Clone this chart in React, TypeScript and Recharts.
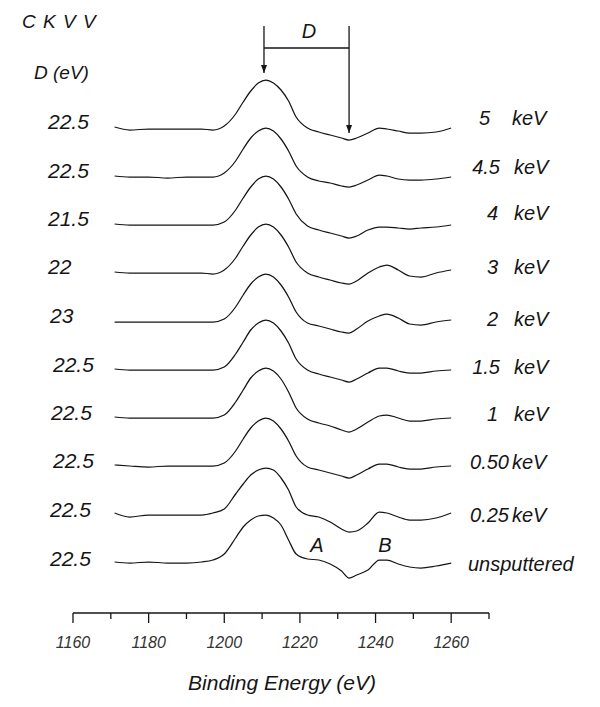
import React from 'react';
import { LineChart, Line, XAxis, YAxis, ReferenceLine, ReferenceDot } from 'recharts';

// binding energy grid (eV)
const energies = [1171, 1175, 1180, 1185, 1190, 1194, 1197, 1200, 1203, 1205, 1207, 1209, 1211, 1213, 1215, 1217, 1219, 1222, 1225, 1228, 1231, 1233, 1235, 1238, 1241, 1243, 1246, 1249, 1252, 1256, 1260];

// derivative spectra, relative to each trace's own baseline (a.u.)
const kev5 = [2, -1, 0, 0, 0, 0, -1, 3, 15, 27, 38, 46, 49, 46, 39, 28, 12, 1, -3, -6, -9, -11, -9, -4, 1, 0, -2, -4, -4, -3, 1];
const kev4_5 = [1, 0, 0, -1, 0, 0, 0, 4, 16, 28, 39, 46, 49, 46, 38, 26, 11, 0, -4, -6, -9, -10, -8, -3, 2, 1, -2, -3, -3, -2, 0];
const kev4 = [1, 0, 0, 0, 0, 0, 0, 3, 15, 27, 38, 46, 49, 46, 38, 26, 11, -1, -5, -8, -11, -13, -11, -5, -2, -2, -3, -4, -3, -2, 0];
const kev3 = [1, 0, 0, 0, 0, 0, -1, 3, 15, 27, 38, 46, 49, 46, 38, 26, 11, 0, -4, -7, -10, -11, -8, 0, 6, 8, 3, -3, -4, 0, 3];
const kev2 = [0, 0, 0, 0, 0, 0, 0, 3, 15, 27, 38, 45, 48, 45, 37, 25, 10, -1, -4, -7, -10, -11, -7, 1, 6, 8, 4, -2, -3, 0, 2];
const kev1_5 = [1, 0, 0, 0, 0, 0, 0, 3, 16, 28, 40, 47, 50, 47, 39, 27, 11, 0, -4, -7, -10, -12, -9, -3, 2, 2, -1, -3, -3, -1, 0];
const kev1 = [1, 0, 0, 0, 0, 0, 0, 3, 16, 28, 40, 47, 50, 47, 39, 26, 10, -1, -5, -8, -12, -14, -11, -4, 2, 3, 0, -3, -3, -1, 0];
const kev0_5 = [1, 0, -1, 0, 0, 0, 0, 3, 15, 27, 38, 45, 48, 45, 37, 25, 10, -1, -4, -7, -10, -12, -9, -3, 2, 2, -1, -3, -3, -1, 0];
const kev0_25 = [1, -3, -1, -1, -1, -1, 1, 5, 20, 30, 39, 44, 46, 44, 36, 24, 7, -1, -3, -8, -15, -18, -17, -9, 2, 1, -3, -6, -6, -4, 1];
const unsputtered = [0, -1, 0, -1, -1, 0, 2, 8, 24, 35, 42, 46, 47, 44, 37, 22, 8, 3, 2, -2, -9, -16, -13, -8, 2, 2, -2, -5, -6, -4, -1];

const traces = [kev5, kev4_5, kev4, kev3, kev2, kev1_5, kev1, kev0_5, kev0_25, unsputtered];
// vertical stacking offset of each trace (a.u.)
const offsets = [484, 436, 388, 340, 291, 243, 195, 147, 99, 51];

const dValues = ['22.5', '22.5', '21.5', '22', '23', '22.5', '22.5', '22.5', '22.5', '22.5'];
const energyLabels = ['5', '4.5', '4', '3', '2', '1.5', '1', '0.50', '0.25', ''];

const xTicks = [1160, 1170, 1180, 1190, 1200, 1210, 1220, 1230, 1240, 1250, 1260, 1270];

const peakE = 1210.5;
const dipE = 1233;

const data = energies.map((e, i) => {
  const row: Record<string, number> = { e };
  traces.forEach((t, k) => {
    row['s' + k] = t[i] + offsets[k];
  });
  return row;
});

const INK = '#151515';
const FONT = '"Liberation Sans", Arial, sans-serif';

// positions of the side texts (page px)
const leftX = [48, 48, 48, 48, 50, 53, 51, 53, 50, 50];
const leftY = [122, 171, 219, 267, 316, 365, 413, 461, 510, 559];
const rightY = [118, 167, 213, 267, 319, 367, 414, 462, 515, 564];
const rightEnd = [490, 500, 498, 498, 498, 500, 498, 509, 509, 0];
const kevX = [512, 514, 514, 514, 514, 514, 514, 512, 512, 0];

const AxisTick = (props: any) => {
  const { x, y, payload } = props;
  const major = payload.value % 20 === 0 && payload.value <= 1260;
  return (
    <g>
      <line x1={x} x2={x} y1={y} y2={y + (major ? 10 : 6)} stroke={INK} strokeWidth={1.3} />
      {major && (
        <text x={x} y={y + 35} textAnchor="middle" fontFamily={FONT} fontStyle="italic" fontSize={16} fill="#333">
          {payload.value}
        </text>
      )}
    </g>
  );
};

const ArrowHead = (props: any) => {
  const { cx, cy } = props;
  return <path d={`M${cx - 3},${cy - 8} L${cx + 3},${cy - 8} L${cx},${cy} Z`} fill={INK} />;
};

export default function App() {
  const arrowTop = 587;
  const barY = 565;
  const leftTip = offsets[0] + 49 + 7;
  const rightTip = offsets[0] - 11 + 7;

  return (
    <div style={{ position: 'absolute', left: 0, top: 0, width: 600, height: 707, background: '#fff' }}>
      <LineChart width={600} height={707} data={data} margin={{ top: 0, right: 111, bottom: 0, left: 73 }}>
        <XAxis
          dataKey="e"
          type="number"
          domain={[1160, 1270]}
          ticks={xTicks}
          interval={0}
          tick={<AxisTick />}
          tickLine={false}
          tickSize={0}
          tickMargin={0}
          axisLine={{ stroke: INK, strokeWidth: 1.3 }}
          height={94}
        />
        <YAxis hide type="number" domain={[0, 613]} />
        {traces.map((_, k) => (
          <Line
            key={k}
            dataKey={'s' + k}
            type="monotone"
            stroke={INK}
            strokeWidth={1.25}
            dot={false}
            isAnimationActive={false}
          />
        ))}
        <ReferenceLine segment={[{ x: peakE, y: arrowTop }, { x: peakE, y: leftTip }]} stroke={INK} strokeWidth={1.3} />
        <ReferenceLine segment={[{ x: dipE, y: arrowTop }, { x: dipE, y: rightTip }]} stroke={INK} strokeWidth={1.3} />
        <ReferenceLine segment={[{ x: peakE, y: barY }, { x: dipE, y: barY }]} stroke={INK} strokeWidth={1.3} />
        <ReferenceDot x={peakE} y={leftTip} r={3} shape={<ArrowHead />} />
        <ReferenceDot x={dipE} y={rightTip} r={3} shape={<ArrowHead />} />
      </LineChart>
      <svg width={600} height={707} style={{ position: 'absolute', left: 0, top: 0, pointerEvents: 'none' }}>
        <g fontFamily={FONT} fontStyle="italic" fill={INK}>
          <text x={22} y={28} fontSize={19} letterSpacing={1}>C K V V</text>
          <text x={34} y={79} fontSize={19}>D (eV)</text>
          <text x={309} y={38} fontSize={20} textAnchor="middle">D</text>
          <text x={317} y={552} fontSize={20} textAnchor="middle">A</text>
          <text x={385} y={552} fontSize={20} textAnchor="middle">B</text>
          {dValues.map((d, i) => (
            <text key={'d' + i} x={leftX[i]} y={leftY[i] + 7} fontSize={21}>{d}</text>
          ))}
          {energyLabels.map((l, i) =>
            i === energyLabels.length - 1 ? (
              <text key={'r' + i} x={468} y={rightY[i] + 7} fontSize={20}>unsputtered</text>
            ) : (
              <g key={'r' + i}>
                <text x={rightEnd[i]} y={rightY[i] + 7} fontSize={20} textAnchor="end">{l}</text>
                <text x={kevX[i]} y={rightY[i] + 7} fontSize={20}>keV</text>
              </g>
            )
          )}
          <text x={282} y={690} fontSize={21} textAnchor="middle">Binding Energy (eV)</text>
        </g>
      </svg>
    </div>
  );
}
